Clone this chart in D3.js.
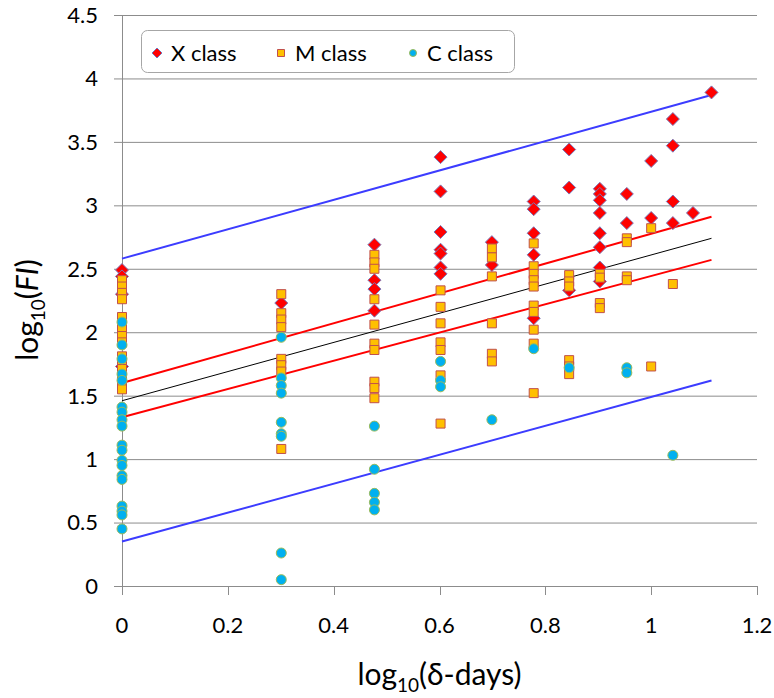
<!DOCTYPE html>
<html>
<head>
<meta charset="utf-8">
<script src="https://cdn.jsdelivr.net/npm/d3@7"></script>
<style>
  html, body { margin: 0; padding: 0; background: #fff; }
  svg { display: block; }
  text { font-family: Lato, "Open Sans", "Liberation Sans", sans-serif; fill: #000; }
</style>
</head>
<body>
<svg id="chart" width="774" height="698"></svg>
<script>
// ---- data ----
const xTicks = [0, 0.2, 0.4, 0.6, 0.8, 1, 1.2];
const yTicks = [0, 0.5, 1, 1.5, 2, 2.5, 3, 3.5, 4, 4.5];
const seriesNames = ["X class", "M class", "C class"];

const xClass = [
  [0, 2.49], [0, 2.44], [0, 2.30], [0, 1.73],
  [0.301, 2.23],
  [0.477, 2.69], [0.477, 2.41], [0.477, 2.34], [0.477, 2.17],
  [0.602, 3.38], [0.602, 3.11], [0.602, 2.79], [0.602, 2.65], [0.602, 2.62], [0.602, 2.51], [0.602, 2.46],
  [0.699, 2.71], [0.699, 2.53],
  [0.778, 3.03], [0.778, 2.97], [0.778, 2.78], [0.778, 2.61], [0.778, 2.11],
  [0.845, 3.44], [0.845, 3.14], [0.845, 2.33],
  [0.903, 3.13], [0.903, 3.09], [0.903, 3.04], [0.903, 2.94], [0.903, 2.78], [0.903, 2.67], [0.903, 2.51], [0.903, 2.40],
  [0.954, 3.09], [0.954, 2.86],
  [1.0, 3.35], [1.0, 2.90],
  [1.041, 3.68], [1.041, 3.47], [1.041, 3.03], [1.041, 2.86],
  [1.079, 2.94],
  [1.114, 3.89]
];

const mClass = [
  [0, 2.41], [0, 2.36], [0, 2.31], [0, 2.26], [0, 2.12], [0, 2.07], [0, 2.02], [0, 1.97], [0, 1.92],
  [0, 1.81], [0, 1.76], [0, 1.71], [0, 1.66], [0, 1.60], [0, 1.55],
  [0.301, 2.30], [0.301, 2.15], [0.301, 2.10], [0.301, 2.04], [0.301, 1.79], [0.301, 1.74], [0.301, 1.69], [0.301, 1.08],
  [0.477, 2.61], [0.477, 2.55], [0.477, 2.50], [0.477, 2.26], [0.477, 2.06], [0.477, 1.91], [0.477, 1.86],
  [0.477, 1.61], [0.477, 1.56], [0.477, 1.48],
  [0.602, 2.33], [0.602, 2.20], [0.602, 2.07], [0.602, 1.92], [0.602, 1.86], [0.602, 1.66], [0.602, 1.28],
  [0.699, 2.66], [0.699, 2.59], [0.699, 2.44], [0.699, 2.07], [0.699, 1.83], [0.699, 1.77],
  [0.778, 2.70], [0.778, 2.52], [0.778, 2.46], [0.778, 2.41], [0.778, 2.36], [0.778, 2.21], [0.778, 2.16],
  [0.778, 2.02], [0.778, 1.91], [0.778, 1.52],
  [0.845, 2.45], [0.845, 2.40], [0.845, 2.36], [0.845, 1.78], [0.845, 1.73], [0.845, 1.67],
  [0.903, 2.46], [0.903, 2.43], [0.903, 2.23], [0.903, 2.19],
  [0.954, 2.74], [0.954, 2.71], [0.954, 2.44], [0.954, 2.41],
  [1.0, 2.82], [1.0, 1.73],
  [1.041, 2.38]
];

const cClass = [
  [0, 2.08], [0, 1.90], [0, 1.79], [0, 1.67], [0, 1.62], [0, 1.41], [0, 1.37], [0, 1.31], [0, 1.26],
  [0, 1.11], [0, 1.07], [0, 0.99], [0, 0.95], [0, 0.87], [0, 0.84], [0, 0.63], [0, 0.59], [0, 0.56], [0, 0.45],
  [0.301, 1.96], [0.301, 1.64], [0.301, 1.58], [0.301, 1.52], [0.301, 1.29], [0.301, 1.20], [0.301, 1.18],
  [0.301, 0.26], [0.301, 0.05],
  [0.477, 1.26], [0.477, 0.92], [0.477, 0.73], [0.477, 0.66], [0.477, 0.60],
  [0.602, 1.77], [0.602, 1.62], [0.602, 1.57],
  [0.699, 1.31],
  [0.778, 1.87],
  [0.845, 1.72],
  [0.954, 1.72], [0.954, 1.68],
  [1.041, 1.03]
];

// fitted / bounding lines: [x0, y0, x1, y1]
const upperBound = [0, 2.58, 1.114, 3.87];
const lowerBound = [0, 0.35, 1.114, 1.62];
const fitLine    = [0, 1.46, 1.114, 2.74];
const upperConf  = [0, 1.60, 1.114, 2.91];
const lowerConf  = [0, 1.33, 1.114, 2.57];

// ---- layout ----
const svg = d3.select("#chart");
const m = { left: 122, right: 757, top: 15, bottom: 586 };
const x = d3.scaleLinear().domain([0, 1.2]).range([m.left, m.right]);
const y = d3.scaleLinear().domain([0, 4.5]).range([m.bottom, m.top]);
const gridColor = "#8c8c8c";

// gridlines
svg.append("g").selectAll("line").data(yTicks).join("line")
  .attr("x1", m.left - 8).attr("x2", m.right)
  .attr("y1", d => y(d) + 0.5).attr("y2", d => y(d) + 0.5)
  .attr("stroke", gridColor).attr("stroke-width", 1);

// y axis line
svg.append("line")
  .attr("x1", m.left + 0.5).attr("x2", m.left + 0.5)
  .attr("y1", m.top).attr("y2", m.bottom + 1)
  .attr("stroke", gridColor);

// x tick marks
svg.append("g").selectAll("line").data(xTicks).join("line")
  .attr("x1", d => Math.round(x(d)) + 0.5).attr("x2", d => Math.round(x(d)) + 0.5)
  .attr("y1", m.bottom).attr("y2", m.bottom + 9)
  .attr("stroke", gridColor);

// tick labels
svg.append("g").selectAll("text").data(yTicks).join("text")
  .attr("x", 98).attr("y", d => y(d))
  .attr("dy", "0.36em")
  .attr("text-anchor", "end")
  .attr("font-size", 22)
  .text(d => d3.format("")(d));

svg.append("g").selectAll("text").data(xTicks).join("text")
  .attr("x", d => x(d)).attr("y", 633)
  .attr("text-anchor", "middle")
  .attr("font-size", 22)
  .text(d => d3.format("")(d));

// axis titles
const xt = svg.append("text").attr("x", (m.left + m.right) / 2).attr("y", 685)
  .attr("text-anchor", "middle").attr("font-size", 30);
xt.append("tspan").text("log");
xt.append("tspan").attr("font-size", 19).attr("dy", 7).text("10");
xt.append("tspan").attr("dy", -7).text("(δ-days)");

const yt = svg.append("text")
  .attr("transform", "translate(38,310) rotate(-90)")
  .attr("text-anchor", "middle").attr("font-size", 30);
yt.append("tspan").text("log");
yt.append("tspan").attr("font-size", 19).attr("dy", 7).text("10");
yt.append("tspan").attr("dy", -7).text("(");
yt.append("tspan").attr("font-style", "italic").text("FI");
yt.append("tspan").text(")");

// lines
const lineGroup = svg.append("g");
function drawLine(seg, color, width) {
  lineGroup.append("line")
    .attr("x1", x(seg[0])).attr("y1", y(seg[1]))
    .attr("x2", x(seg[2])).attr("y2", y(seg[3]))
    .attr("stroke", color).attr("stroke-width", width);
}

// markers
const diamond = r => `M0,${-r}L${r},0L0,${r}L${-r},0Z`;
const square = s => `M${-s},${-s}H${s}V${s}H${-s}Z`;

function drawX(g, data, r) {
  g.selectAll("path.x").data(data).join("path").attr("class", "x")
    .attr("transform", d => `translate(${x(d[0])},${y(d[1])})`)
    .attr("d", diamond(r))
    .attr("fill", "#ff0000").attr("stroke", "#7878b8").attr("stroke-width", 1);
}
function drawM(g, data, s) {
  g.selectAll("path.m").data(data).join("path").attr("class", "m")
    .attr("transform", d => `translate(${x(d[0])},${y(d[1])})`)
    .attr("d", square(s))
    .attr("fill", "#ffc000").attr("stroke", "#c0504d").attr("stroke-width", 1);
}
function drawC(g, data, r) {
  g.selectAll("circle.c").data(data).join("circle").attr("class", "c")
    .attr("cx", d => x(d[0])).attr("cy", d => y(d[1])).attr("r", r)
    .attr("fill", "#00b0f0").attr("stroke", "#9bbb59").attr("stroke-width", 1);
}

const pts = svg.append("g");
drawX(pts.append("g"), xClass, 6.5);
drawM(pts.append("g"), mClass, 4.5);
drawC(pts.append("g"), cClass, 5);

drawLine(upperBound, "#3c3cff", 2);
drawLine(lowerBound, "#3c3cff", 2);
drawLine(upperConf, "#ff0000", 2);
drawLine(lowerConf, "#ff0000", 2);
drawLine(fitLine, "#000000", 1);

// legend
const lg = svg.append("g");
lg.append("rect").attr("x", 141.5).attr("y", 30.5).attr("width", 373).attr("height", 42)
  .attr("rx", 6).attr("fill", "#fff").attr("stroke", "#a6a6a6").attr("stroke-width", 1);
const legendX = [157, 281, 413];
const ly = 53;
lg.append("path").attr("transform", `translate(${legendX[0]},${ly})`).attr("d", diamond(5))
  .attr("fill", "#ff0000").attr("stroke", "#7878b8");
lg.append("path").attr("transform", `translate(${legendX[1]},${ly})`).attr("d", square(3.5))
  .attr("fill", "#ffc000").attr("stroke", "#c0504d");
lg.append("circle").attr("cx", legendX[2]).attr("cy", ly).attr("r", 3.5)
  .attr("fill", "#00b0f0").attr("stroke", "#9bbb59");
lg.selectAll("text").data(seriesNames).join("text")
  .attr("x", (d, i) => legendX[i] + 14).attr("y", ly).attr("dy", "0.36em")
  .attr("font-size", 22).text(d => d);
</script>
</body>
</html>
